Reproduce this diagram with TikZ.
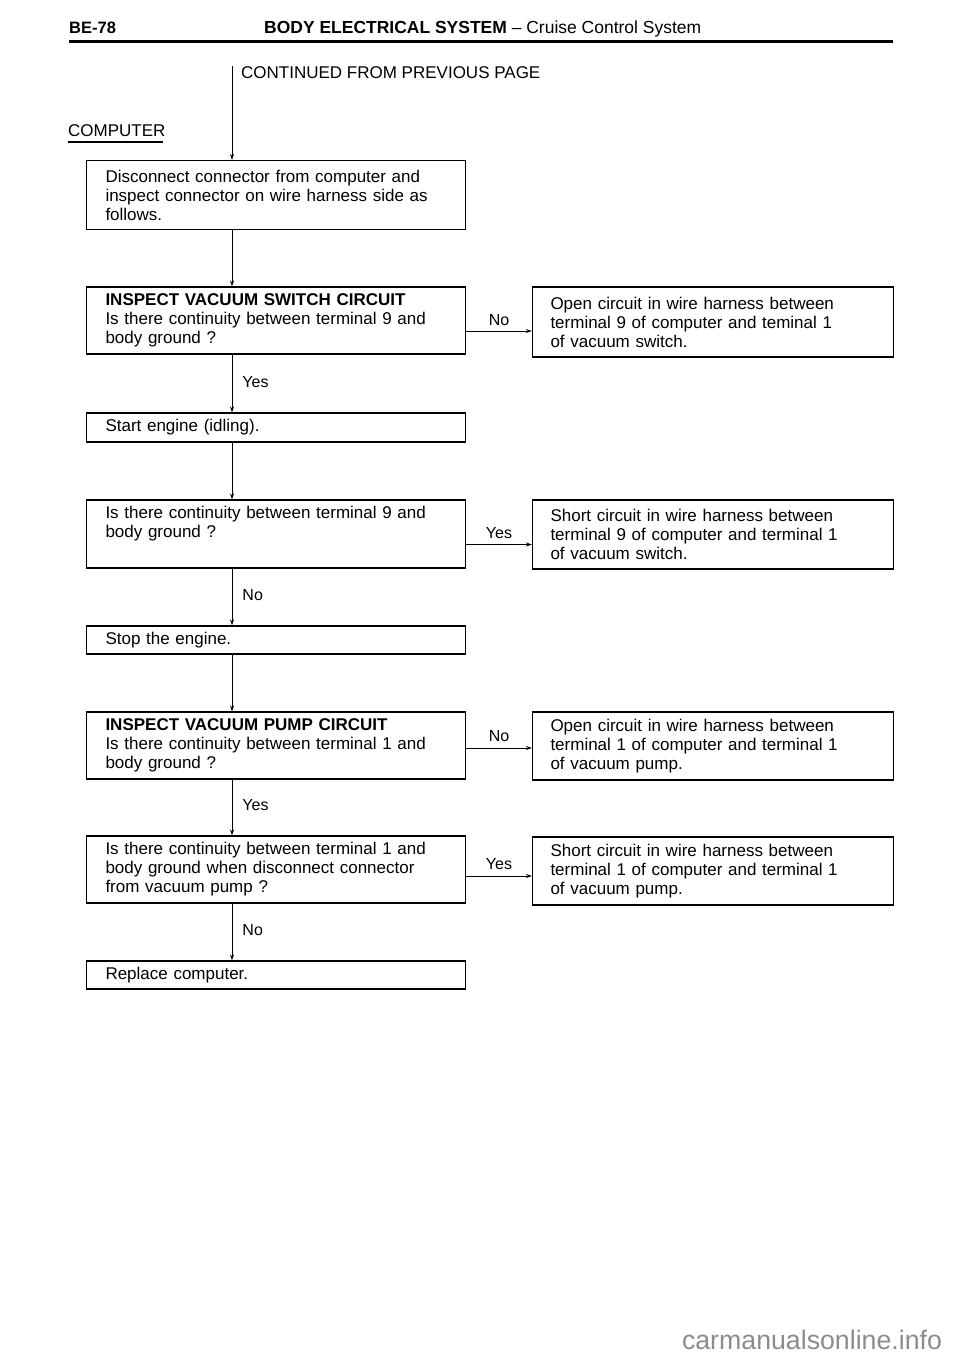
\documentclass[tikz,border=0pt]{standalone}
\usepackage{graphicx}
\usepackage{fontspec}
\setmainfont{Liberation Sans}
\usetikzlibrary{arrows.meta}
\begin{document}
\begin{tikzpicture}[x=1pt,y=-1pt,
  every node/.style={font=\fontsize{17}{19}\selectfont},
  lbox/.style={draw, line width=1.1pt, inner xsep=19pt, inner ysep=0pt, text width=341pt, align=left, minimum height=#1},
  rbox/.style={draw, line width=1.1pt, inner xsep=18pt, inner ysep=0pt, text width=325pt, align=left, minimum height=#1},
  arr/.style={line width=0.9pt, -{Stealth[length=6pt,width=4pt]}},
  lab/.style={inner sep=0pt, font=\fontsize{16}{19}\selectfont}]
\useasboundingbox (0,0) rectangle (960,1356);

% header
\node[anchor=west, inner sep=0pt, font=\fontsize{16.5}{18}\bfseries\selectfont] (pg) at (69,28) {BE-78};
\node[anchor=west, inner sep=0pt] (ttl) at (264,29) {\resizebox{437pt}{!}{\fontsize{16}{18}\selectfont\textbf{BODY ELECTRICAL SYSTEM} -- Cruise Control System}};
\coordinate (rl) at (69,42);
\coordinate (rr) at (893,42);
\draw[line width=3pt] (rl) -- (rr);

\node[anchor=west, inner sep=0pt] (cont) at (241,73) {CONTINUED FROM PREVIOUS PAGE};
\node[anchor=west, inner sep=0pt, font=\fontsize{17}{19}\selectfont] (comp) at (68,131) {COMPUTER};
\coordinate (ul) at (68,142);
\coordinate (ur) at (163,142);
\draw[line width=1.2pt] (ul) -- (ur);

% boxes
\node[lbox=69pt] (b1) at (276,195) {Disconnect connector from computer and\\inspect connector on wire harness side as\\follows.};
\node[lbox=67pt] (b2) at (276,320.5) {\textbf{INSPECT VACUUM SWITCH CIRCUIT}\\Is there continuity between terminal 9 and\\body ground ?};
\node[rbox=70pt] (A) at (713,322) {Open circuit in wire harness between\\terminal 9 of computer and teminal 1\\of vacuum switch.};
\node[lbox=29pt] (b3) at (276,427.5) {Start engine (idling).};
\node[lbox=68pt] (b4) at (276,534) {Is there continuity between terminal 9 and\\body ground ?\\\strut};
\node[rbox=69pt] (B) at (713,534.5) {Short circuit in wire harness between\\terminal 9 of computer and terminal 1\\of vacuum switch.};
\node[lbox=28pt] (b5) at (276,640) {Stop the engine.};
\node[lbox=67pt] (b6) at (276,745.5) {\textbf{INSPECT VACUUM PUMP CIRCUIT}\\Is there continuity between terminal 1 and\\body ground ?};
\node[rbox=68pt] (C) at (713,746) {Open circuit in wire harness between\\terminal 1 of computer and terminal 1\\of vacuum pump.};
\node[lbox=67pt] (b7) at (276,869.5) {Is there continuity between terminal 1 and\\body ground when disconnect connector\\from vacuum pump ?};
\node[rbox=68pt] (D) at (713,871) {Short circuit in wire harness between\\terminal 1 of computer and terminal 1\\of vacuum pump.};
\node[lbox=28pt] (b8) at (276,975) {Replace computer.};

% vertical connectors
\coordinate (spine) at (232,0);
\coordinate (top) at (232,66);
\draw[arr] (top) -- (b1.north -| spine);
\draw[arr] (b1.south -| spine) -- (b2.north -| spine);
\draw[arr] (b2.south -| spine) -- node[lab, right=10pt, yshift=1pt]{Yes} (b3.north -| spine);
\draw[arr] (b3.south -| spine) -- (b4.north -| spine);
\draw[arr] (b4.south -| spine) -- node[lab, right=10pt, yshift=2pt]{No} (b5.north -| spine);
\draw[arr] (b5.south -| spine) -- (b6.north -| spine);
\draw[arr] (b6.south -| spine) -- node[lab, right=10pt, yshift=2pt]{Yes} (b7.north -| spine);
\draw[arr] (b7.south -| spine) -- node[lab, right=10pt, yshift=2pt]{No} (b8.north -| spine);

% horizontal connectors
\coordinate (h1) at ([yshift=-10.5pt]b2.east);
\coordinate (h2) at ([yshift=-10.5pt]b4.east);
\coordinate (h3) at ([yshift=-2.5pt]b6.east);
\coordinate (h4) at ([yshift=-6.5pt]b7.east);
\draw[arr] (h1) -- node[lab, above=5pt]{No} (h1 -| A.west);
\draw[arr] (h2) -- node[lab, above=5pt]{Yes} (h2 -| B.west);
\draw[arr] (h3) -- node[lab, above=6pt]{No} (h3 -| C.west);
\draw[arr] (h4) -- node[lab, above=6pt]{Yes} (h4 -| D.west);

% watermark
\node[inner sep=0pt, text=black!45] (wm) at (812,1340) {\resizebox{260pt}{!}{\fontsize{24}{26}\selectfont carmanualsonline.info}};
\end{tikzpicture}
\end{document}
